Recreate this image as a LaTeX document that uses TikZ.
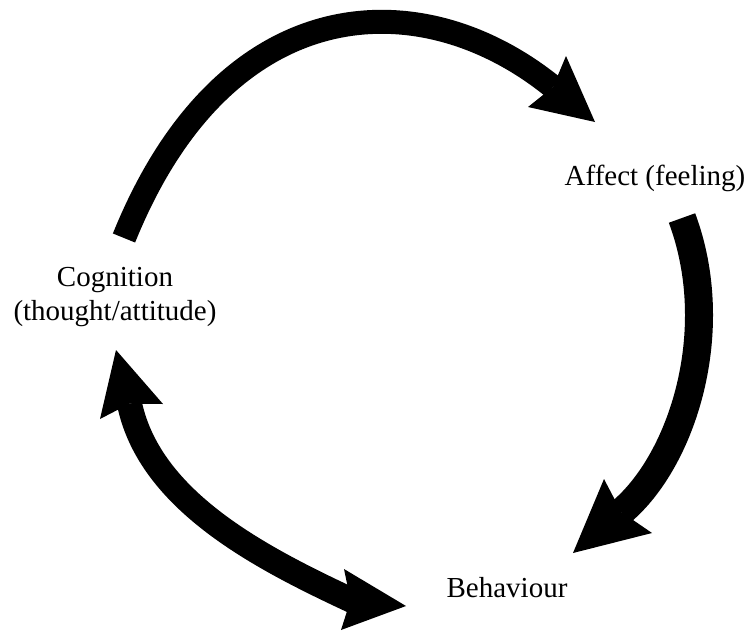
\documentclass[tikz,border=0pt]{standalone}
\usepackage{fontspec}
\setmainfont{Liberation Serif}
\begin{document}
\begin{tikzpicture}[x=1pt,y=-1pt]
\tikzset{
  shaft/.style={draw=black, line width=#1, line cap=butt},
  headfill/.style={fill=black},
  lbl/.style={font=\fontsize{29}{34}\selectfont, inner sep=0pt, anchor=base, align=center}
}
\useasboundingbox (0,0) rectangle (747,632);

% labels (base anchor = baseline of the last line)
\node[lbl] (aff) at (655,185) {Affect (feeling)};
\node[lbl] (cog) at (115,320) {Cognition\\(thought/attitude)};
\node[lbl] (beh) at (507,597) {Behaviour};

% arrow 1: cognition -> affect
\coordinate (t1) at (124,238);
\coordinate (n1) at (553,87);
\coordinate (h1tip) at (595,122);
\coordinate (h1a) at (566,56);
\coordinate (h1b) at (528,107);
\draw[shaft=24pt] (t1) .. controls (225,-12) and (421,-20) .. (n1);
\fill[headfill] (h1tip) -- (h1a) -- (n1) -- (h1b) -- cycle;

% arrow 2: affect -> behaviour
\coordinate (t2) at (682,218);
\coordinate (n2) at (621.2,511.9);
\coordinate (h2tip) at (573,553);
\coordinate (h2a) at (604,479);
\coordinate (h2b) at (652,533);
\draw[shaft=28pt] (t2) .. controls (724,330.8) and (682.3,460.6) .. (n2);
\fill[headfill] (h2tip) -- (h2a) -- (n2) -- (h2b) -- cycle;

% arrow 3: behaviour <-> cognition
\coordinate (n3u) at (129.5,403.7);
\coordinate (s3) at (353,601);
\coordinate (n3l) at (350.5,600.3);
\coordinate (h3utip) at (116,350);
\coordinate (h3ua) at (100,419);
\coordinate (h3ub) at (163,404);
\coordinate (h3ltip) at (406,606);
\coordinate (h3la) at (344,569);
\coordinate (h3lb) at (341,630);
\draw[shaft=25pt] (n3u) .. controls (150,501.7) and (262.4,558.7) .. (s3);
\fill[headfill] (h3utip) -- (h3ua) -- (n3u) -- (h3ub) -- cycle;
\fill[headfill] (h3ltip) -- (h3la) -- (n3l) -- (h3lb) -- cycle;
\end{tikzpicture}
\end{document}
